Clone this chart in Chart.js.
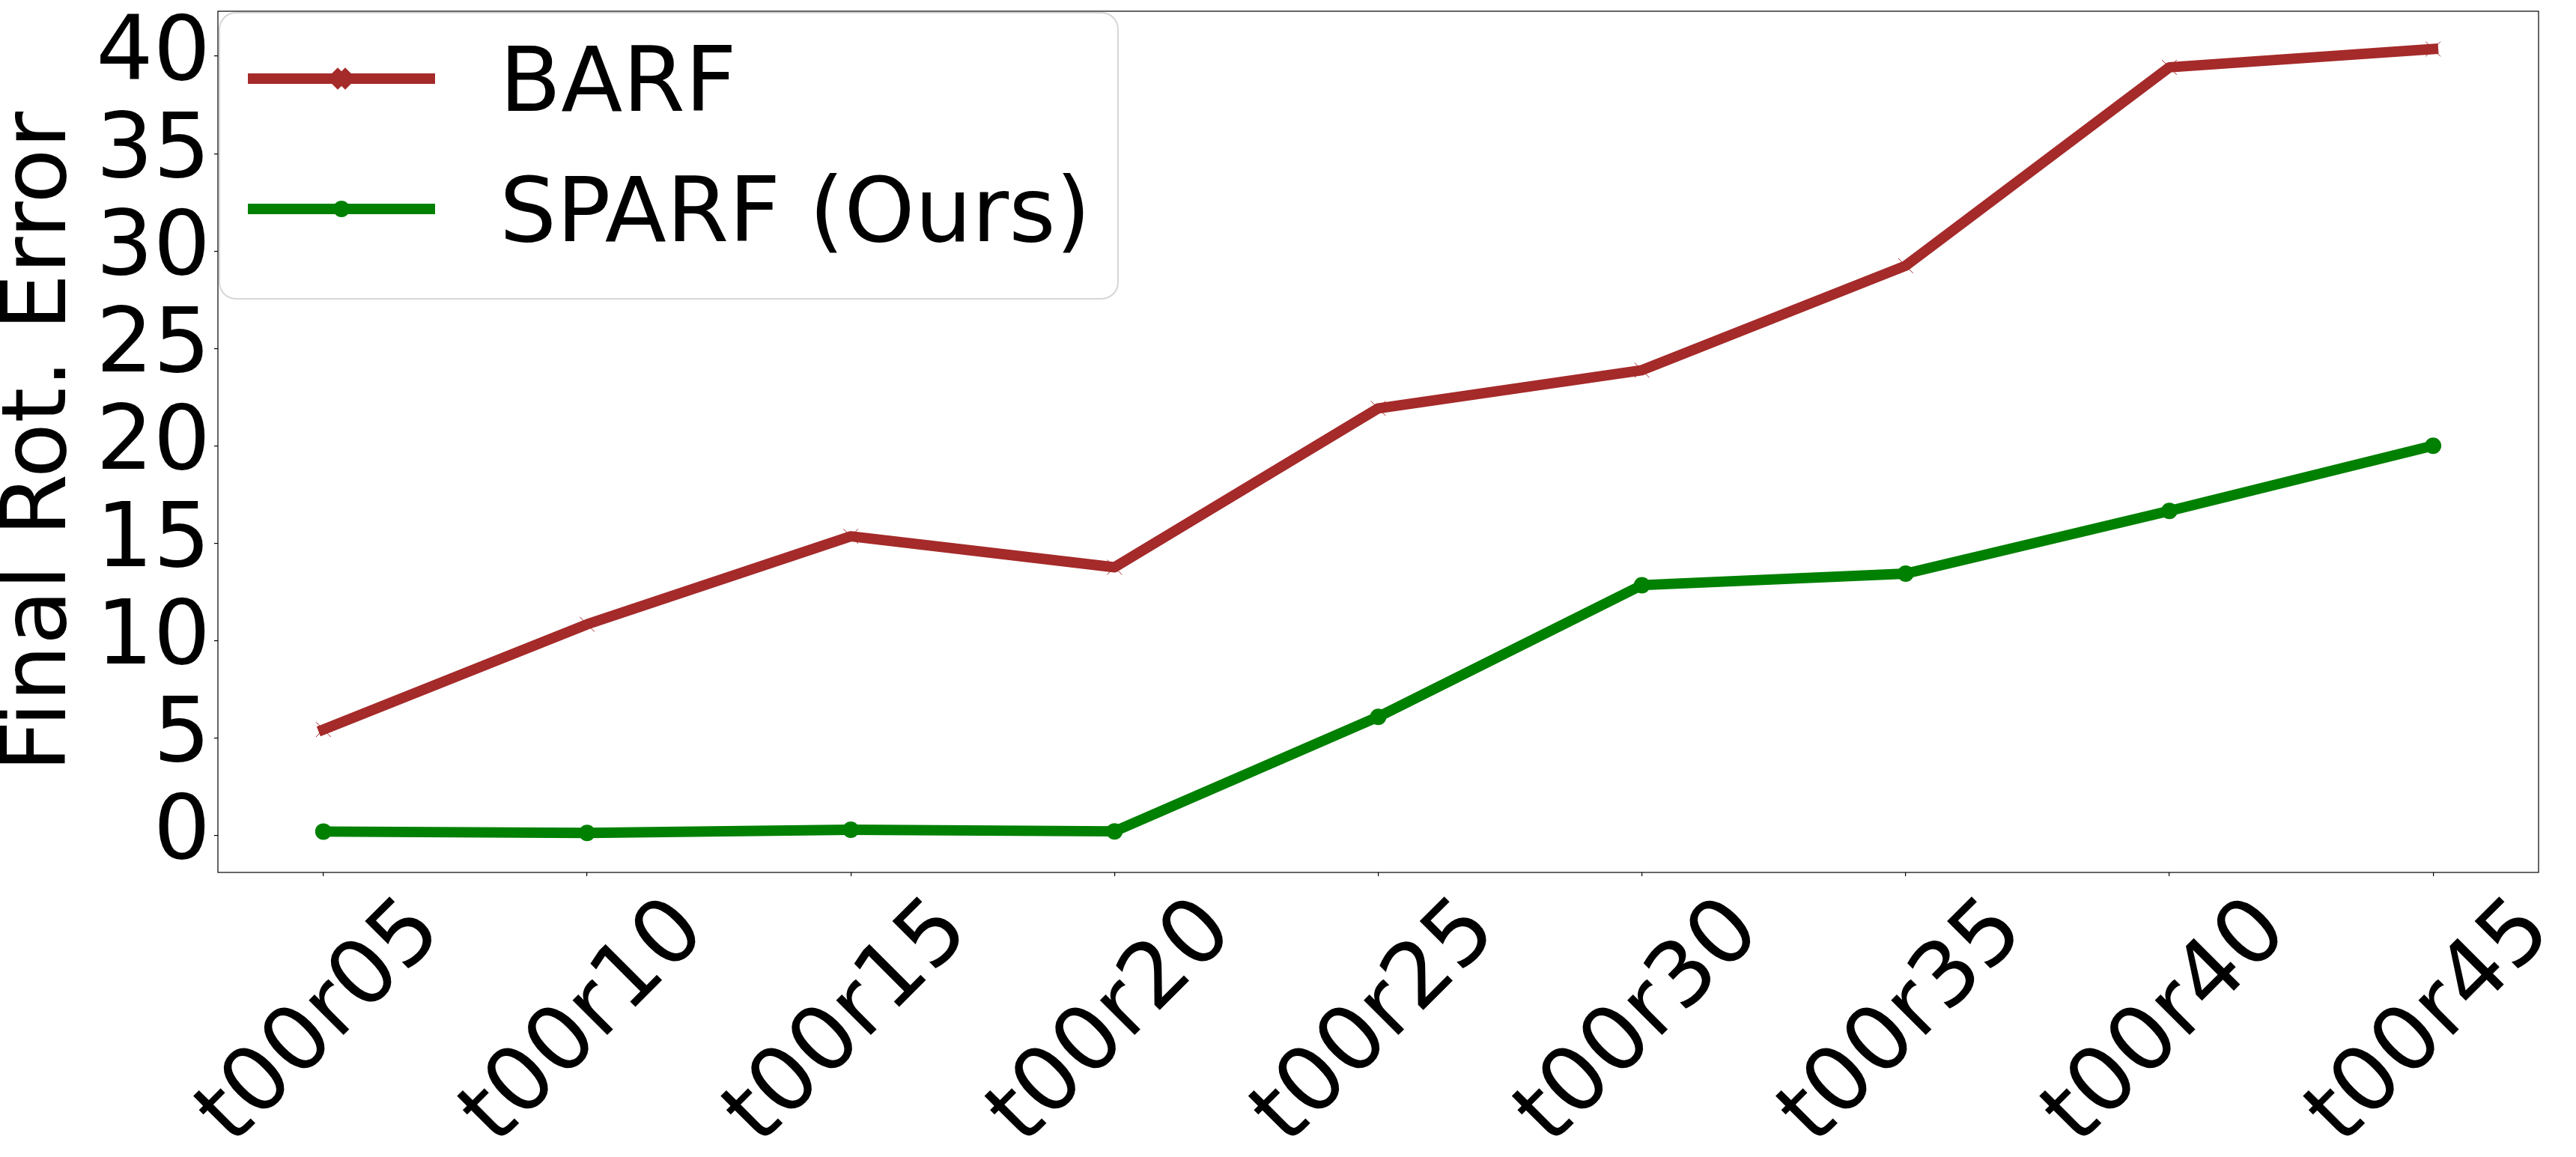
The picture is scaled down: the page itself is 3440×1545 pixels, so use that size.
<!DOCTYPE html>
<html>
<head>
<meta charset="utf-8">
<script src="https://cdn.jsdelivr.net/npm/chart.js@4.4.0/dist/chart.umd.min.js"></script>
<style>
  html, body { margin: 0; padding: 0; background: #fff; }
  canvas { display: block; }
</style>
</head>
<body>
<canvas id="chart" width="3440" height="1545"></canvas>
<script>
// Data
const categories = ['t00r05', 't00r10', 't00r15', 't00r20', 't00r25', 't00r30', 't00r35', 't00r40', 't00r45'];
const barfValues = [5.43, 10.83, 15.35, 13.76, 21.92, 23.88, 29.24, 39.43, 40.37];
const sparfValues = [0.19, 0.12, 0.28, 0.2, 6.08, 12.84, 13.43, 16.65, 20.0];
const yTicks = [0, 5, 10, 15, 20, 25, 30, 35, 40];
const seriesNames = ['BARF', 'SPARF (Ours)'];

const FONT = "'DejaVu Sans', sans-serif";
const BROWN = '#a52a2a';
const GREEN = '#008000';

const toPoints = vals => vals.map((v, i) => ({ x: i, y: v }));

// white background, box around the plot and a matplotlib-like legend
const frameAndLegend = {
    id: 'frameAndLegend',
    beforeDraw(chart) {
        const ctx = chart.ctx;
        ctx.save();
        ctx.fillStyle = '#fff';
        ctx.fillRect(0, 0, chart.width, chart.height);
        ctx.restore();
    },
    afterDraw(chart) {
        const ctx = chart.ctx;
        const a = chart.chartArea;
        ctx.save();
        ctx.strokeStyle = '#000';
        ctx.lineWidth = 1.2;
        ctx.strokeRect(a.left, a.top, a.right - a.left, a.bottom - a.top);

        // legend box
        const bx = a.left + 2, by = a.top + 2, bw = 1200, bh = 382;
        ctx.beginPath();
        ctx.roundRect(bx, by, bw, bh, 22);
        ctx.fillStyle = 'rgba(255,255,255,0.8)';
        ctx.fill();
        ctx.strokeStyle = 'rgba(204,204,204,0.8)';
        ctx.lineWidth = 2;
        ctx.stroke();

        const rows = [105, 279];
        chart.data.datasets.forEach((ds, i) => {
            const y = rows[i];
            ctx.beginPath();
            ctx.moveTo(331, y);
            ctx.lineTo(581, y);
            ctx.strokeStyle = ds.borderColor;
            ctx.lineWidth = ds.borderWidth;
            ctx.lineCap = 'butt';
            ctx.stroke();
            ctx.fillStyle = ds.pointBackgroundColor;
            ctx.strokeStyle = ds.pointBorderColor;
            Chart.helpers.drawPoint(ctx, {
                pointStyle: ds.pointStyle, radius: ds.pointRadius,
                borderWidth: ds.pointBorderWidth, rotation: 0
            }, 456, y);
            ctx.fillStyle = '#000';
            ctx.font = '120px ' + FONT;
            ctx.textBaseline = 'alphabetic';
            ctx.textAlign = 'left';
            ctx.fillText(ds.label, 667, y + 43);
        });
        ctx.restore();
    }
};

new Chart(document.getElementById('chart'), {
    type: 'line',
    data: {
        datasets: [
            {
                label: seriesNames[0],
                data: toPoints(barfValues),
                borderColor: BROWN,
                borderWidth: 13.9,
                borderJoinStyle: 'round',
                borderCapStyle: 'square',
                pointStyle: 'crossRot',
                pointRadius: 14,
                pointBorderWidth: 1,
                pointBorderColor: BROWN,
                pointBackgroundColor: BROWN,
                fill: false,
                tension: 0,
            },
            {
                label: seriesNames[1],
                data: toPoints(sparfValues),
                borderColor: GREEN,
                borderWidth: 13.9,
                borderJoinStyle: 'round',
                borderCapStyle: 'square',
                pointStyle: 'circle',
                pointRadius: 11,
                pointBorderWidth: 0,
                pointBorderColor: GREEN,
                pointBackgroundColor: GREEN,
                fill: false,
                tension: 0,
            }
        ]
    },
    options: {
        responsive: false,
        animation: false,
        devicePixelRatio: 1,
        layout: { padding: { top: 9, right: 50, left: 0, bottom: 0 } },
        plugins: {
            legend: { display: false },
            tooltip: { enabled: false },
        },
        scales: {
            x: {
                type: 'linear',
                min: -0.4,
                max: 8.4,
                afterBuildTicks: s => { s.ticks = categories.map((_, i) => ({ value: i })); },
                afterFit: s => { s.height = 380; s.paddingLeft = 0; s.paddingRight = 0; },
                border: { display: false },
                grid: { display: true, drawOnChartArea: false, drawTicks: true, tickLength: 5, color: '#000', lineWidth: 1.2 },
                ticks: {
                    autoSkip: false,
                    minRotation: 45,
                    maxRotation: 45,
                    padding: 4,
                    labelOffset: 140,
                    color: '#000',
                    font: { family: FONT, size: 120 },
                    callback: (v, i) => categories[i],
                },
            },
            y: {
                min: -1.91,
                max: 42.31,
                afterBuildTicks: s => { s.ticks = yTicks.map(v => ({ value: v })); },
                afterFit: s => { s.width = 291; s.paddingTop = 0; s.paddingBottom = 0; },
                border: { display: false },
                grid: { display: true, drawOnChartArea: false, drawTicks: true, tickLength: 5, color: '#000', lineWidth: 1.2 },
                ticks: {
                    autoSkip: false,
                    padding: 5,
                    color: '#000',
                    font: { family: FONT, size: 120, lineHeight: 1 },
                },
                title: {
                    display: true,
                    text: 'Final Rot. Error',
                    color: '#000',
                    padding: 0,
                    font: { family: FONT, size: 120, lineHeight: 0.93 },
                },
            },
        },
    },
    plugins: [frameAndLegend],
});
</script>
</body>
</html>
